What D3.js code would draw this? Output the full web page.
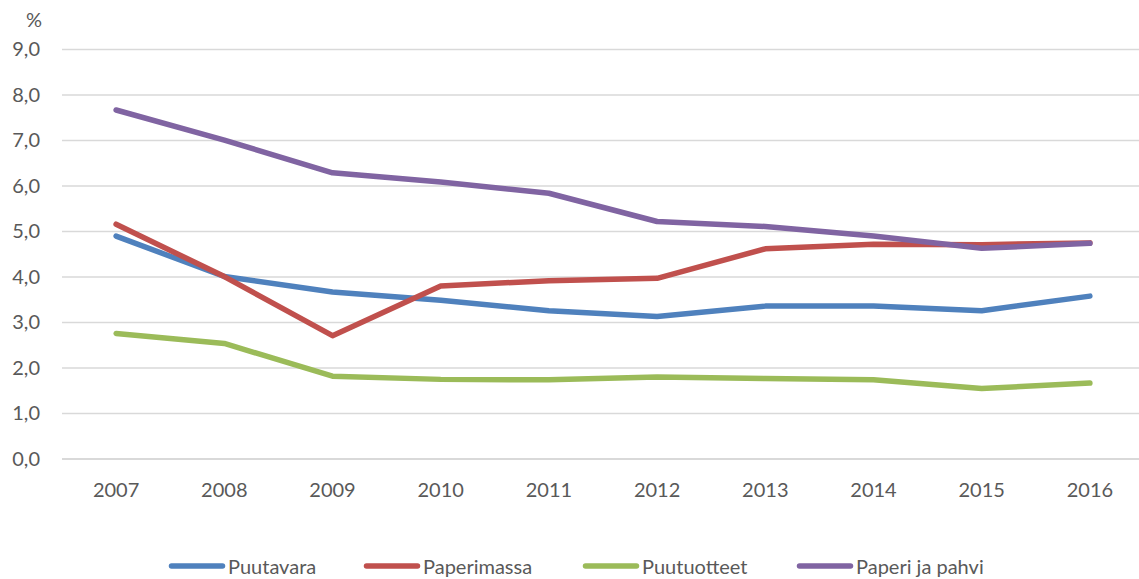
<!DOCTYPE html>
<html lang="fi">
<head>
  <meta charset="UTF-8">
  <title>Puutavara, paperimassa, puutuotteet, paperi ja pahvi</title>
  <script src="https://d3js.org/d3.v7.min.js"></script>
  <style>
      body {
          margin: 0;
          padding: 0;
          background: #fff;
          font-family: Lato, sans-serif;
          overflow: hidden;
      }
      svg { display: block; }
      .tick text { fill: #595959; }
  </style>
</head>
<body>
  <svg width="1139" height="579"></svg>
  <script>
      // Data
      const years = ["2007", "2008", "2009", "2010", "2011", "2012", "2013", "2014", "2015", "2016"];
      const seriesNames = ["Puutavara", "Paperimassa", "Puutuotteet", "Paperi ja pahvi"];
      const puutavara = [4.90, 4.01, 3.67, 3.49, 3.26, 3.13, 3.36, 3.36, 3.26, 3.58];
      const paperimassa = [5.16, 4.01, 2.71, 3.80, 3.92, 3.97, 4.62, 4.72, 4.71, 4.75];
      const puutuotteet = [2.76, 2.54, 1.82, 1.75, 1.74, 1.80, 1.77, 1.74, 1.55, 1.67];
      const paperiJaPahvi = [7.67, 7.01, 6.29, 6.09, 5.84, 5.22, 5.11, 4.90, 4.63, 4.74];
      const yTicks = [0, 1, 2, 3, 4, 5, 6, 7, 8, 9];

      const colors = ["#4f81bd", "#c0504d", "#9bbb59", "#8064a2"];
      const allSeries = [puutavara, paperimassa, puutuotteet, paperiJaPahvi];

      const svg = d3.select("svg");
      const plotLeft = 62;
      const plotRight = 1144;
      const plotTop = 49.5;
      const plotBottom = 459;
      const fontSize = "20px";

      const x = d3.scaleBand().domain(years).range([plotLeft, plotRight]);
      const y = d3.scaleLinear().domain([0, 9]).range([plotBottom, plotTop]);

      // Gridlines
      svg.append("g")
          .selectAll("line")
          .data(yTicks)
          .enter().append("line")
          .attr("x1", plotLeft)
          .attr("x2", plotRight)
          .attr("y1", d => y(d))
          .attr("y2", d => y(d))
          .attr("stroke", "#d9d9d9")
          .attr("stroke-width", d => d === 0 ? 2 : 1.5);

      // Y axis labels
      const yAxis = svg.append("g")
          .attr("transform", `translate(${plotLeft}, 0)`)
          .call(d3.axisLeft(y).tickValues(yTicks).tickSize(0).tickPadding(22)
              .tickFormat(d => d3.format(".1f")(d).replace(".", ",")));
      yAxis.select(".domain").remove();
      yAxis.selectAll("text").attr("font-size", fontSize).attr("font-family", "Lato, sans-serif");

      svg.append("text")
          .attr("x", 34)
          .attr("y", 27)
          .attr("text-anchor", "middle")
          .attr("font-size", fontSize)
          .attr("fill", "#595959")
          .text("%");

      // X axis labels
      const xAxis = svg.append("g")
          .attr("transform", `translate(0, ${plotBottom})`)
          .call(d3.axisBottom(x).tickSize(0).tickPadding(24));
      xAxis.select(".domain").remove();
      xAxis.selectAll("text").attr("font-size", fontSize).attr("font-family", "Lato, sans-serif");

      // Lines
      const line = d3.line()
          .x((d, i) => x(years[i]) + x.bandwidth() / 2)
          .y(d => y(d));

      allSeries.forEach((s, k) => {
          svg.append("path")
              .datum(s)
              .attr("d", line)
              .attr("fill", "none")
              .attr("stroke", colors[k])
              .attr("stroke-width", 5.5)
              .attr("stroke-linecap", "round")
              .attr("stroke-linejoin", "round");
      });

      // Legend
      const legendX = [169, 364, 583, 797];
      const legend = svg.append("g").attr("transform", "translate(0, 566)");
      seriesNames.forEach((name, i) => {
          legend.append("line")
              .attr("x1", legendX[i] + 2.5)
              .attr("x2", legendX[i] + 53.5)
              .attr("y1", 0)
              .attr("y2", 0)
              .attr("stroke", colors[i])
              .attr("stroke-width", 5.5)
              .attr("stroke-linecap", "round");
          legend.append("text")
              .attr("x", legendX[i] + 59)
              .attr("y", 7.5)
              .attr("font-size", fontSize)
              .attr("fill", "#595959")
              .text(name);
      });
  </script>
</body>
</html>
